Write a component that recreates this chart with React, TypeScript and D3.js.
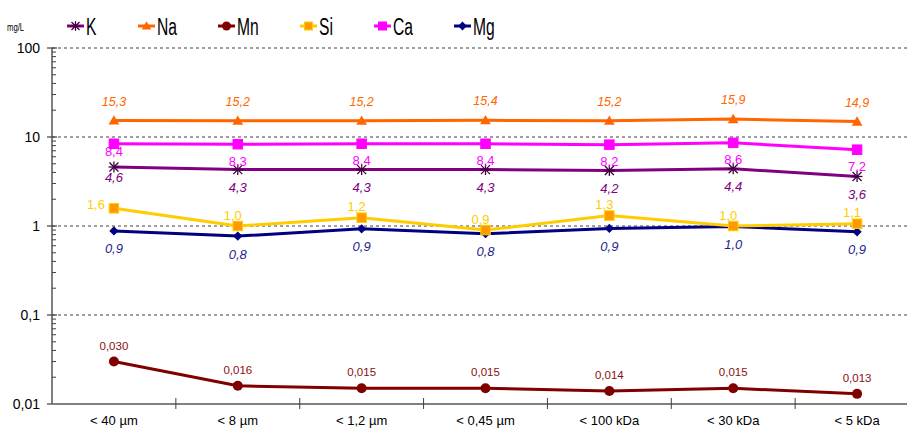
import React from 'react';
import * as d3 from 'd3';

const categories = ['< 40 µm', '< 8 µm', '< 1,2 µm', '< 0,45 µm', '< 100 kDa', '< 30 kDa', '< 5 kDa'];
const K = [4.6, 4.3, 4.3, 4.3, 4.2, 4.4, 3.6];
const Na = [15.3, 15.2, 15.2, 15.4, 15.2, 15.9, 14.9];
const Mn = [0.030, 0.016, 0.015, 0.015, 0.014, 0.015, 0.013];
const Si = [1.58, 1.0, 1.24, 0.9, 1.31, 1.0, 1.06];
const Ca = [8.4, 8.3, 8.4, 8.4, 8.2, 8.6, 7.2];
const Mg = [0.88, 0.77, 0.93, 0.82, 0.94, 0.99, 0.86];
const yTicks = [0.01, 0.1, 1, 10, 100];
const yTickLabels = ['0,01', '0,1', '1', '10', '100'];
const legendNames = ['K', 'Na', 'Mn', 'Si', 'Ca', 'Mg'];

const W = 907, H = 429;
const FONT = '"Liberation Sans", Arial, sans-serif';

type Marker = 'star' | 'tri' | 'circle' | 'square' | 'diamond';
interface Series {
  name: string; values: number[]; color: string; fill: string; markerStroke: string; marker: Marker;
  labelColor: string; italic: boolean; fs: number; dy: number; dx: number; decimals: number;
  firstDy?: number; firstDx?: number;
}

const series: Series[] = [
  { name: 'Mn', values: Mn, color: '#800000', fill: '#800000', markerStroke: '#800000', marker: 'circle', labelColor: '#8B1010', italic: false, fs: 11.5, dy: -16, dx: 0, decimals: 3 },
  { name: 'Mg', values: Mg, color: '#000080', fill: '#000080', markerStroke: '#000080', marker: 'diamond', labelColor: '#1F1F8F', italic: true, fs: 13, dy: 18, dx: 0, decimals: 1 },
  { name: 'Si', values: Si, color: '#FFCC00', fill: '#FF9900', markerStroke: '#FFCC00', marker: 'square', labelColor: '#FFCC00', italic: false, fs: 13, dy: -11, dx: -5, decimals: 1, firstDy: -4, firstDx: -18 },
  { name: 'K', values: K, color: '#800080', fill: '#800080', markerStroke: '#400040', marker: 'star', labelColor: '#800080', italic: true, fs: 13, dy: 18, dx: 0, decimals: 1, firstDy: 10 },
  { name: 'Ca', values: Ca, color: '#FF00FF', fill: '#FF00FF', markerStroke: '#FF00FF', marker: 'square', labelColor: '#FF00FF', italic: false, fs: 13, dy: 17, dx: 0, decimals: 1, firstDy: 8 },
  { name: 'Na', values: Na, color: '#FF6600', fill: '#FF6600', markerStroke: '#FF6600', marker: 'tri', labelColor: '#FF6600', italic: true, fs: 12.5, dy: -19, dx: 0, decimals: 1 },
];

const fmt = (v: number, d: number) => v.toFixed(d).replace('.', ',');

function MarkerShape({ type, x, y, fill, stroke, s }: { type: Marker; x: number; y: number; fill: string; stroke: string; s: number }) {
  switch (type) {
    case 'circle':
      return <circle cx={x} cy={y} r={s * 0.5} fill={fill} />;
    case 'square':
      return <rect x={x - s / 2} y={y - s / 2} width={s} height={s} fill={fill} stroke={stroke} strokeWidth={1} />;
    case 'diamond': {
      const r = s * 0.55;
      return <path d={`M${x},${y - r}L${x + r},${y}L${x},${y + r}L${x - r},${y}Z`} fill={fill} />;
    }
    case 'tri': {
      const r = s * 0.6;
      return <path d={`M${x},${y - r}L${x + r},${y + r * 0.75}L${x - r},${y + r * 0.75}Z`} fill={fill} />;
    }
    case 'star': {
      const r = s * 0.5;
      return (
        <g stroke={stroke} strokeWidth={1.3}>
          <line x1={x - r} y1={y - r} x2={x + r} y2={y + r} />
          <line x1={x - r} y1={y + r} x2={x + r} y2={y - r} />
          <line x1={x} y1={y - r * 1.2} x2={x} y2={y + r * 1.2} />
          <line x1={x - r * 1.2} y1={y} x2={x + r * 1.2} y2={y} />
        </g>
      );
    }
  }
  return null;
}

export default function App() {
  const x = d3.scaleBand<string>().domain(categories).range([52, 919]);
  const cx = (c: string) => (x(c) as number) + x.bandwidth() / 2;
  const y = d3.scaleLog().domain([0.01, 100]).range([404, 48]);
  const line = d3.line<number>().x((_, i) => cx(categories[i])).y((d) => y(d));

  const minor: number[] = [];
  for (let e = -2; e < 2; e++) for (let m = 2; m <= 9; m++) minor.push(m * Math.pow(10, e));

  const legendX = [67, 138, 218, 300, 374, 454];
  const legendOrder = legendNames.map((n) => series.find((s) => s.name === n)!);

  return (
    <div style={{ position: 'absolute', left: 0, top: 0 }}>
      <svg width={W} height={H} style={{ display: 'block', fontFamily: FONT }}>
        <rect width={W} height={H} fill="#fff" />
        {/* grid */}
        {yTicks.filter((t) => t > 0.01).map((t) => (
          <line key={t} x1={52} x2={W} y1={y(t)} y2={y(t)} stroke="#404040" strokeWidth={1} strokeDasharray="3,3" />
        ))}
        {/* y axis */}
        <line x1={52} x2={52} y1={y(100)} y2={404} stroke="#808080" strokeWidth={2} />
        {minor.map((m) => (
          <line key={m} x1={52} x2={56} y1={y(m)} y2={y(m)} stroke="#404040" strokeWidth={1} />
        ))}
        {yTicks.map((t, i) => (
          <g key={t}>
            <line x1={47} x2={57} y1={y(t)} y2={y(t)} stroke="#404040" strokeWidth={1.2} />
            <text x={40} y={y(t)} textAnchor="end" dominantBaseline="central" fontSize={14} fill="#000">{yTickLabels[i]}</text>
          </g>
        ))}
        <text transform="translate(7,27) scale(0.7,1)" fontSize={11} dominantBaseline="central" fill="#000">mg/L</text>
        {/* x axis */}
        <line x1={52} x2={W} y1={404} y2={404} stroke="#808080" strokeWidth={2} />
        {categories.map((c, i) => (
          <g key={c}>
            {i > 0 && <line x1={x(c)} x2={x(c)} y1={398} y2={409} stroke="#404040" strokeWidth={1} />}
            <text x={cx(c)} y={420} textAnchor="middle" dominantBaseline="central" fontSize={13} fill="#000">{c}</text>
          </g>
        ))}
        {/* series */}
        {series.map((s) => (
          <g key={s.name}>
            <path d={line(s.values) || ''} fill="none" stroke={s.color} strokeWidth={3} strokeLinejoin="round" />
            {s.values.map((v, i) => (
              <MarkerShape key={i} type={s.marker} x={cx(categories[i])} y={y(v)} fill={s.fill} stroke={s.markerStroke}
                s={s.marker === 'circle' ? 10 : s.marker === 'square' ? 9.5 : s.marker === 'tri' ? 9 : s.marker === 'diamond' ? 8.5 : 9} />
            ))}
          </g>
        ))}
        {series.map((s) => (
          <g key={s.name + 'l'}>
            {s.values.map((v, i) => {
              const dy = i === 0 && s.firstDy !== undefined ? s.firstDy : s.dy;
              const dx = i === 0 && s.firstDx !== undefined ? s.firstDx : s.dx;
              return (
                <text key={i} x={cx(categories[i]) + dx} y={y(v) + dy} textAnchor="middle" dominantBaseline="central"
                  fontSize={s.fs} fontStyle={s.italic ? 'italic' : 'normal'} fill={s.labelColor}>{fmt(v, s.decimals)}</text>
              );
            })}
          </g>
        ))}
        {/* legend */}
        {legendOrder.map((s, i) => (
          <g key={s.name + 'lg'}>
            <line x1={legendX[i]} x2={legendX[i] + 17} y1={26} y2={26} stroke={s.color} strokeWidth={3} />
            <MarkerShape type={s.marker} x={legendX[i] + 8.5} y={26} fill={s.fill} stroke={s.markerStroke} s={s.marker === 'circle' ? 9 : 8} />
            <text transform={`translate(${legendX[i] + 19},27) scale(0.68,1)`} dominantBaseline="central" fontSize={23} fill="#000">{s.name}</text>
          </g>
        ))}
      </svg>
    </div>
  );
}
